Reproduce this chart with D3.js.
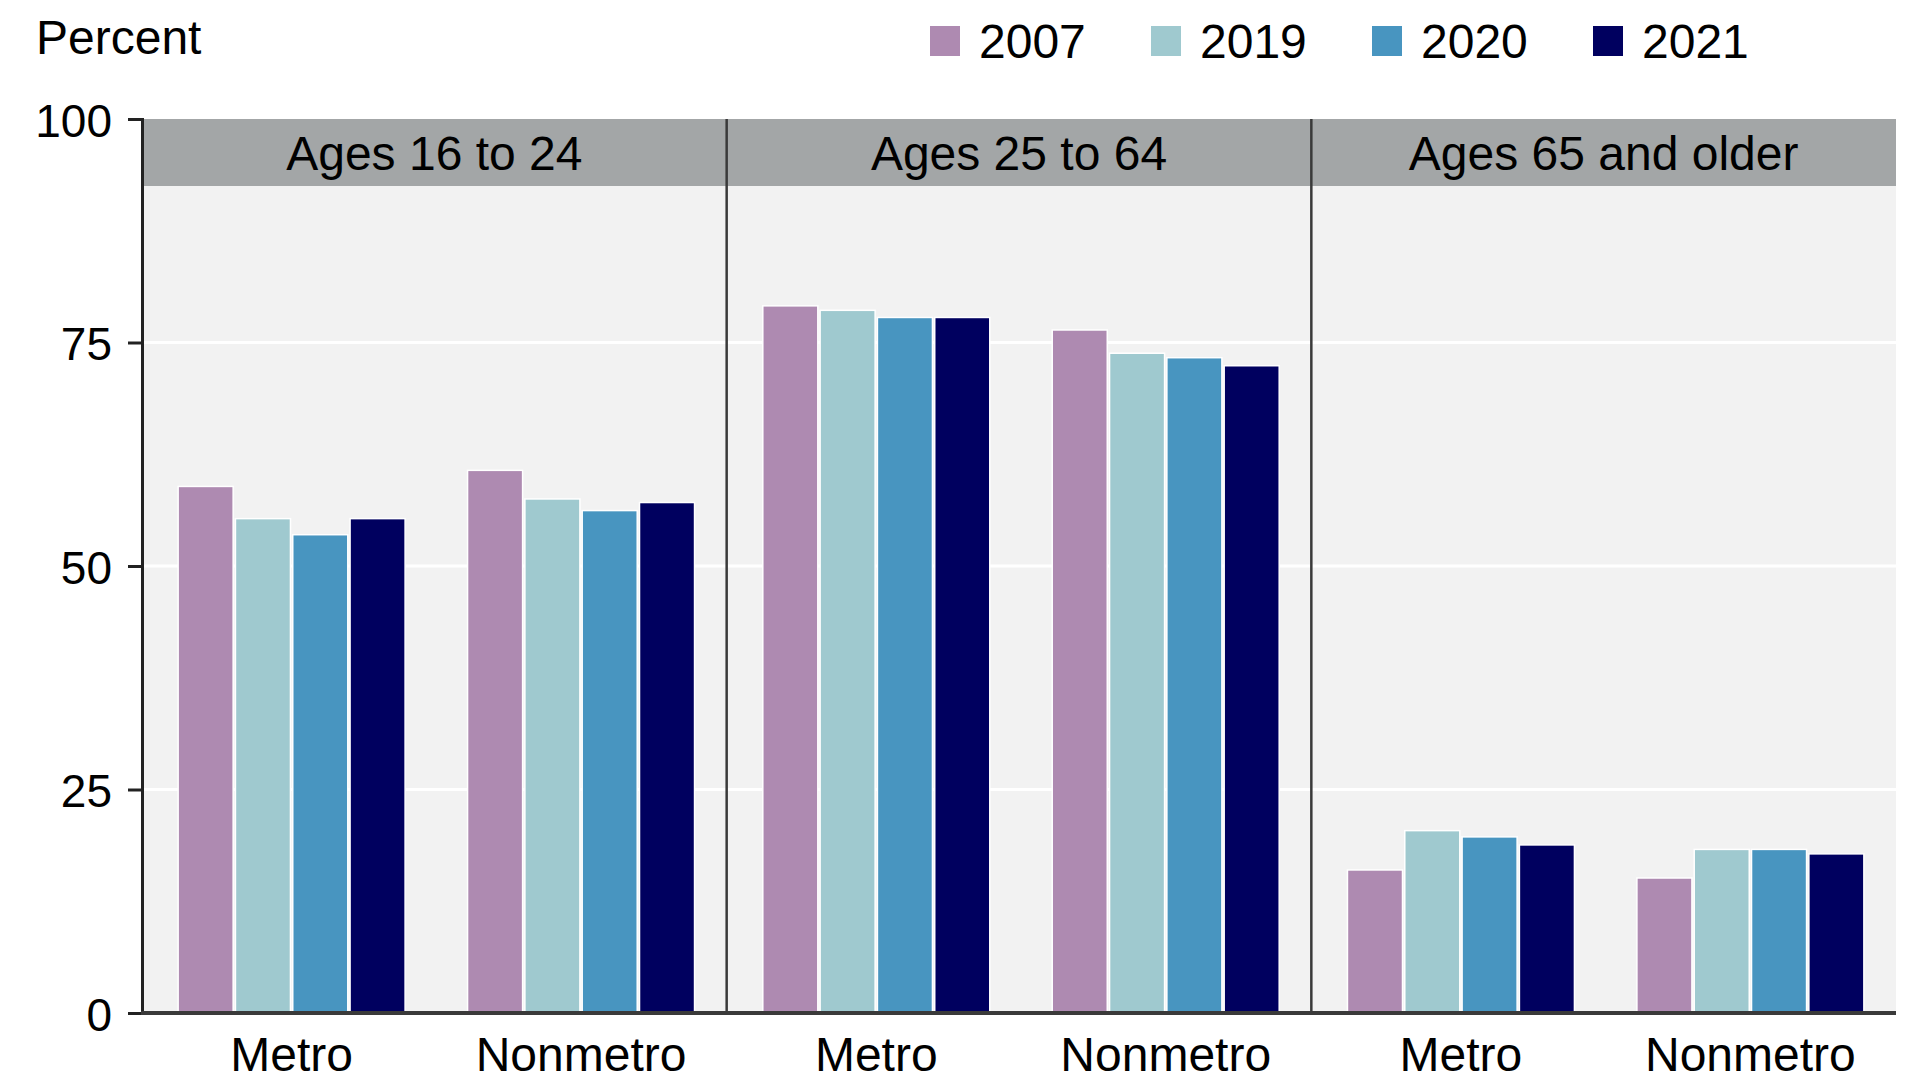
<!DOCTYPE html>
<html>
<head>
<meta charset="utf-8">
<script src="https://cdn.jsdelivr.net/npm/d3@7"></script>
<style>
  html, body { margin: 0; padding: 0; background: #ffffff; }
  svg { display: block; }
  text { font-family: "Liberation Sans", Arial, "DejaVu Sans", sans-serif; fill: #000; }
</style>
</head>
<body>
<svg id="chart" width="1920" height="1085"></svg>
<script>
// ---- Data ----
const panels = ["Ages 16 to 24", "Ages 25 to 64", "Ages 65 and older"];
const areas = ["Metro", "Nonmetro"];
const years = ["2007", "2019", "2020", "2021"];
const colors = ["#ae8ab1", "#9fc9cf", "#4895c0", "#00005f"];
// values[panel][area][year]
const ages16to24 = [[58.9, 55.3, 53.5, 55.3], [60.7, 57.5, 56.2, 57.1]];
const ages25to64 = [[79.1, 78.6, 77.8, 77.8], [76.4, 73.8, 73.3, 72.4]];
const ages65plus = [[16.0, 20.4, 19.7, 18.8], [15.1, 18.3, 18.3, 17.8]];
const values = [ages16to24, ages25to64, ages65plus];
const yTicks = [0, 25, 50, 75, 100];

(function () {
// ---- Layout ----
const svg = d3.select("#chart");
const mLeft = 142, mRight = 1896, mTop = 119, mBottom = 1013;
const stripH = 67;
const fontSize = 48;
const tickFont = 46;

const y = d3.scaleLinear().domain([0, 100]).range([mBottom, mTop]);
const px = d3.scaleBand().domain(panels).range([mLeft, mRight]).padding(0);
const gx = d3.scaleBand().domain(areas).range([0, px.bandwidth()]).paddingInner(0.2).paddingOuter(0.11);
const bx = d3.scaleBand().domain(years).range([0, gx.bandwidth()]).padding(0.04);

// panel background
svg.append("rect")
  .attr("x", mLeft).attr("y", mTop + stripH)
  .attr("width", mRight - mLeft).attr("height", mBottom - mTop - stripH)
  .attr("fill", "#f2f2f2");

// gridlines
svg.append("g").selectAll("line")
  .data(yTicks.filter(t => t > 0 && t < 100))
  .join("line")
  .attr("x1", mLeft).attr("x2", mRight)
  .attr("y1", d => y(d)).attr("y2", d => y(d))
  .attr("stroke", "#ffffff").attr("stroke-width", 3);

// bars
panels.forEach((p, pi) => {
  const g = svg.append("g").attr("transform", `translate(${px(p) + 2},0)`);
  areas.forEach((a, ai) => {
    const gg = g.append("g").attr("transform", `translate(${gx(a)},0)`);
    gg.selectAll("rect")
      .data(years.map((yr, yi) => ({ yr, v: values[pi][ai][yi], c: colors[yi] })))
      .join("rect")
      .attr("x", d => bx(d.yr))
      .attr("width", bx.bandwidth())
      .attr("y", d => y(d.v))
      .attr("height", d => y(0) - y(d.v))
      .attr("fill", d => d.c)
      .attr("stroke", "#ffffff")
      .attr("stroke-width", 1.5);
    g.append("text")
      .attr("x", gx(a) + gx.bandwidth() / 2)
      .attr("y", 1071)
      .attr("text-anchor", "middle")
      .attr("font-size", fontSize)
      .text(a);
  });
});

// strips
svg.append("g").selectAll("rect")
  .data(panels).join("rect")
  .attr("x", d => px(d)).attr("y", mTop)
  .attr("width", px.bandwidth()).attr("height", stripH)
  .attr("fill", "#a3a6a7");
svg.append("g").selectAll("text")
  .data(panels).join("text")
  .attr("x", d => px(d) + px.bandwidth() / 2)
  .attr("y", mTop + stripH / 2 + 17)
  .attr("text-anchor", "middle")
  .attr("font-size", fontSize)
  .text(d => d);

// panel dividers
svg.append("g").selectAll("line")
  .data(panels.slice(1)).join("line")
  .attr("x1", d => px(d)).attr("x2", d => px(d))
  .attr("y1", mTop).attr("y2", mBottom)
  .attr("stroke", "#3a3a3a").attr("stroke-width", 2.5);

// y axis
const yAxis = d3.axisLeft(y).tickValues(yTicks).tickSize(14).tickPadding(16).tickFormat(d3.format("d"));
const ya = svg.append("g").attr("transform", `translate(${mLeft},0)`).call(yAxis);
ya.select(".domain").attr("stroke", "#222").attr("stroke-width", 3);
ya.selectAll(".tick line").attr("stroke", "#222").attr("stroke-width", 3);
ya.selectAll(".tick text")
  .attr("font-size", tickFont)
  .attr("font-family", "\"Liberation Sans\", Arial, sans-serif")
  .attr("fill", "#000")
  .attr("dy", "0.38em");

// baseline
svg.append("line")
  .attr("x1", mLeft - 1).attr("x2", mRight)
  .attr("y1", y(0)).attr("y2", y(0))
  .attr("stroke", "#3a3a3a").attr("stroke-width", 4);

// y title
svg.append("text")
  .attr("x", 36).attr("y", 54)
  .attr("font-size", fontSize)
  .text("Percent");

// legend
const legendX = d3.scalePoint().domain(years).range([930, 1593]);
const lg = svg.append("g");
years.forEach((yr, i) => {
  lg.append("rect")
    .attr("x", legendX(yr)).attr("y", 26)
    .attr("width", 30).attr("height", 30)
    .attr("fill", colors[i]);
  lg.append("text")
    .attr("x", legendX(yr) + 49).attr("y", 58)
    .attr("font-size", fontSize)
    .text(yr);
});
})();
</script>
</body>
</html>
